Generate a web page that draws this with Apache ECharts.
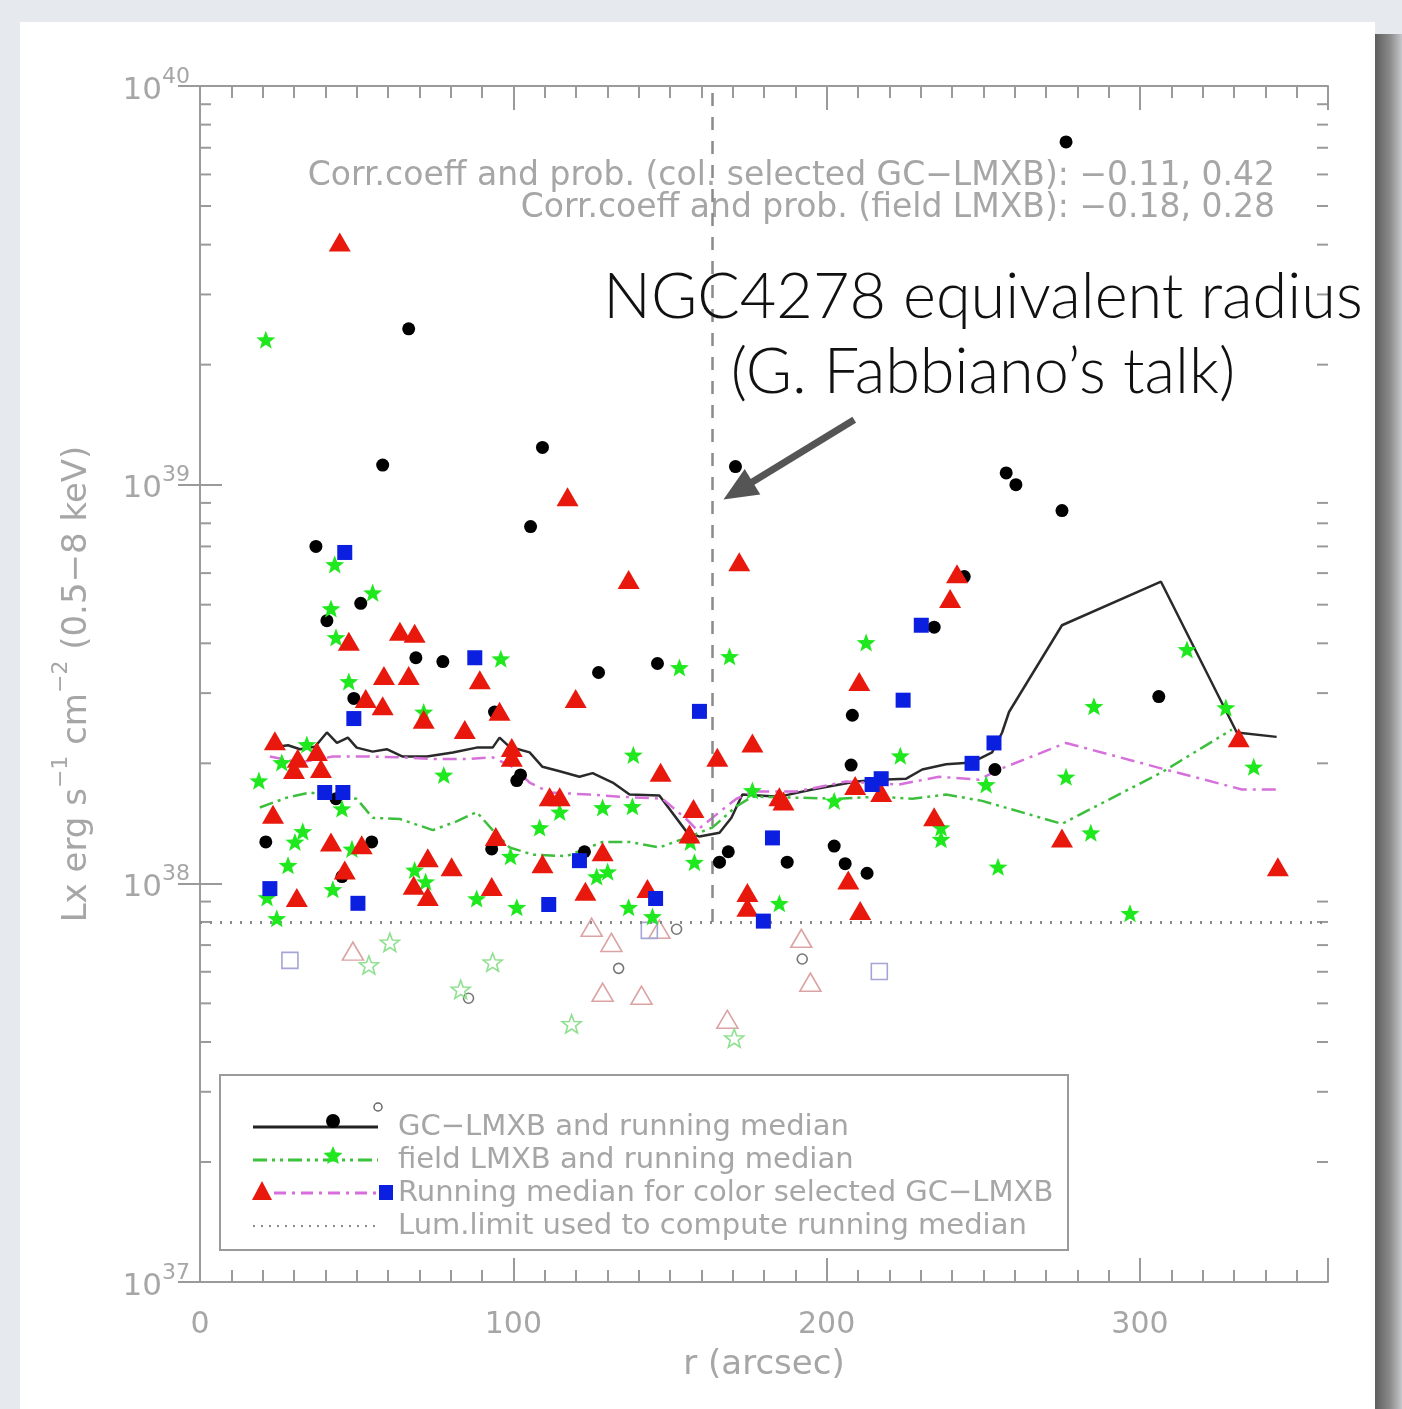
<!DOCTYPE html>
<html>
<head>
<meta charset="utf-8">
<script src="https://cdn.jsdelivr.net/npm/echarts@6/dist/echarts.min.js"></script>
<style>
  html, body { margin: 0; padding: 0; width: 1402px; height: 1409px; overflow: hidden; background: #e6e9ee; }
  #card { position: absolute; left: 20px; top: 22px; width: 1355px; height: 1400px; background: #fff; }
  #shade { position: absolute; left: 1375px; top: 34px; width: 27px; height: 1380px;
           background: linear-gradient(to right, #5d5d5d, #8a8a8a 55%, #c5c8cc); }
  #chart { position: absolute; left: 0; top: 0; width: 1402px; height: 1409px; }
</style>
</head>
<body>
<div id="card"></div>
<div id="shade"></div>
<div id="chart"></div>
<script>
// ---- Data: r (arcsec), Lx (erg/s) ----
// GC-LMXB detections
const gcLmxb = [
  [276.4,7.24e39],[66.6,2.46e39],[109.3,1.24e39],[58.3,1.12e39],[170.9,1.11e39],[257.3,1.07e39],
  [260.4,1.00e39],[105.5,7.85e38],[275.1,8.61e38],[37.0,7.00e38],[243.9,5.88e38],[51.3,5.04e38],
  [40.5,4.56e38],[234.3,4.39e38],[68.9,3.68e38],[77.5,3.60e38],[146.0,3.56e38],[127.2,3.38e38],
  [49.1,2.91e38],[306.0,2.94e38],[94.0,2.69e38],[208.2,2.64e38],[207.8,1.98e38],[253.7,1.93e38],
  [102.3,1.87e38],[101.1,1.81e38],[43.4,1.63e38],[21.0,1.27e38],[54.8,1.27e38],[93.1,1.22e38],
  [122.7,1.20e38],[45.3,1.04e38],[202.4,1.24e38],[205.9,1.12e38],[212.9,1.06e38],[165.8,1.13e38],
  [168.6,1.20e38],[187.4,1.13e38]
];
// GC-LMXB below the luminosity limit
const gcLmxbFaint = [[133.6,6.12e37],[85.7,5.15e37],[152.1,7.67e37],[192.2,6.46e37]];

// colour-selected GC-LMXB (red GCs)
const redGc = [
  [44.6,4.06e39],[117.3,9.33e38],[172.1,6.41e38],[136.8,5.78e38],[241.6,5.98e38],[239.4,5.18e38],
  [63.8,4.29e38],[68.5,4.24e38],[47.5,4.05e38],[58.7,3.32e38],[66.6,3.32e38],[89.3,3.24e38],
  [210.4,3.21e38],[52.9,2.91e38],[119.9,2.91e38],[58.3,2.79e38],[95.6,2.70e38],[71.4,2.58e38],
  [84.5,2.43e38],[23.9,2.28e38],[176.3,2.25e38],[331.5,2.32e38],[37.3,2.14e38],[99.5,2.19e38],
  [99.5,2.07e38],[31.2,2.06e38],[165.1,2.07e38],[30.0,1.93e38],[38.6,1.94e38],[147.0,1.90e38],
  [111.6,1.65e38],[114.8,1.65e38],[184.9,1.65e38],[186.2,1.61e38],[209.1,1.76e38],[217.4,1.69e38],
  [157.5,1.54e38],[23.3,1.49e38],[234.3,1.47e38],[156.2,1.33e38],[275.1,1.30e38],[41.8,1.27e38],
  [51.6,1.25e38],[94.4,1.31e38],[128.5,1.20e38],[72.7,1.16e38],[80.3,1.10e38],[109.3,1.12e38],
  [344.0,1.10e38],[46.2,1.08e38],[68.2,9.89e37],[93.1,9.82e37],[206.9,1.02e38],[72.7,9.27e37],
  [30.9,9.22e37],[123.0,9.55e37],[142.8,9.70e37],[174.7,9.48e37],[174.7,8.71e37],[210.7,8.55e37]
];
const redGcFaint = [
  [125.0,7.76e37],[131.3,7.11e37],[128.5,5.33e37],[140.9,5.24e37],[48.8,6.76e37],
  [191.9,7.28e37],[194.8,5.65e37],[168.3,4.56e37],[146.6,7.67e37]
];

// colour-selected GC-LMXB (blue GCs)
const blueGc = [
  [46.2,6.76e38],[230.2,4.44e38],[87.7,3.68e38],[224.4,2.88e38],[159.4,2.70e38],[49.1,2.59e38],
  [253.4,2.25e38],[246.4,2.00e38],[217.4,1.83e38],[214.5,1.77e38],[39.8,1.69e38],[45.6,1.69e38],
  [182.7,1.30e38],[121.1,1.14e38],[22.3,9.70e37],[50.4,8.91e37],[111.3,8.85e37],[145.4,9.16e37],
  [179.8,8.04e37]
];
const blueGcFaint = [[28.7,6.41e37],[216.8,6.01e37],[143.4,7.62e37]];

// field LMXB
const fieldLmxb = [
  [21.0,2.31e39],[43.0,6.31e38],[55.1,5.36e38],[41.8,4.89e38],[43.4,4.14e38],[212.6,4.02e38],
  [315.0,3.86e38],[169.0,3.71e38],[96.0,3.66e38],[153.0,3.48e38],[47.5,3.21e38],[71.4,2.69e38],
  [285.3,2.78e38],[327.4,2.76e38],[34.1,2.23e38],[138.3,2.10e38],[223.5,2.09e38],[26.1,2.01e38],
  [336.3,1.96e38],[77.8,1.87e38],[276.4,1.85e38],[18.8,1.81e38],[250.9,1.77e38],[176.3,1.71e38],
  [202.4,1.61e38],[45.3,1.54e38],[128.5,1.55e38],[138.0,1.56e38],[114.8,1.51e38],[108.4,1.38e38],
  [32.8,1.35e38],[236.5,1.38e38],[284.3,1.34e38],[236.5,1.29e38],[30.3,1.27e38],[156.5,1.27e38],
  [48.5,1.22e38],[99.1,1.17e38],[157.8,1.13e38],[28.1,1.11e38],[254.7,1.10e38],[68.5,1.08e38],
  [130.1,1.07e38],[126.6,1.04e38],[72.0,1.01e38],[42.4,9.66e37],[21.4,9.22e37],[88.3,9.16e37],
  [184.9,8.91e37],[101.1,8.71e37],[136.8,8.71e37],[296.8,8.41e37],[144.4,8.26e37],[24.5,8.17e37]
];
const fieldLmxbFaint = [[60.6,7.11e37],[53.9,6.24e37],[93.4,6.34e37],[83.2,5.42e37],[118.6,4.44e37],[170.5,4.09e37]];

// running medians
const gcMedian = [
  [22.9,2.19e38],[28.1,2.22e38],[31.9,2.17e38],[36.7,2.20e38],[40.5,2.39e38],[43.7,2.25e38],
  [47.2,2.32e38],[50.0,2.19e38],[55.1,2.14e38],[59.6,2.17e38],[64.7,2.08e38],[72.4,2.08e38],
  [80.7,2.13e38],[88.3,2.19e38],[93.4,2.19e38],[95.6,2.32e38],[98.8,2.20e38],[105.2,2.13e38],
  [109.3,1.96e38],[114.8,1.91e38],[121.1,1.85e38],[125.3,1.89e38],[131.7,1.79e38],[137.1,1.67e38],
  [146.6,1.66e38],[155.2,1.35e38],[159.4,1.31e38],[165.8,1.34e38],[169.6,1.46e38],[173.1,1.67e38],
  [184.9,1.65e38],[195.4,1.72e38],[209.4,1.80e38],[216.8,1.82e38],[225.4,1.83e38],[230.5,1.93e38],
  [238.1,1.99e38],[246.4,2.01e38],[252.8,2.13e38],[256.0,2.39e38],[258.2,2.69e38],[275.1,4.44e38],
  [306.7,5.71e38],[330.9,2.39e38],[343.6,2.33e38]
];
const colorMedian = [
  [22.3,2.08e38],[31.9,2.01e38],[42.4,2.08e38],[53.2,2.08e38],[63.8,2.07e38],[74.3,2.05e38],
  [85.1,2.05e38],[93.4,2.07e38],[99.8,1.96e38],[105.2,1.79e38],[111.6,1.69e38],[124.3,1.67e38],
  [133.9,1.65e38],[147.6,1.63e38],[155.2,1.45e38],[158.7,1.36e38],[165.8,1.51e38],[171.2,1.63e38],
  [176.3,1.70e38],[190.3,1.70e38],[206.2,1.80e38],[223.1,1.77e38],[235.9,1.85e38],[248.6,1.82e38],
  [255.0,1.93e38],[276.4,2.25e38],[307.0,1.94e38],[332.5,1.72e38],[344.3,1.72e38]
];
const fieldMedian = [
  [19.1,1.55e38],[27.7,1.64e38],[35.1,1.69e38],[42.4,1.65e38],[50.0,1.63e38],[55.1,1.46e38],
  [63.8,1.45e38],[74.3,1.36e38],[81.9,1.43e38],[88.3,1.51e38],[93.4,1.36e38],[98.8,1.23e38],
  [106.2,1.18e38],[117.0,1.17e38],[128.5,1.27e38],[137.1,1.27e38],[146.6,1.23e38],[156.2,1.31e38],
  [163.5,1.38e38],[171.2,1.56e38],[176.3,1.65e38],[190.3,1.64e38],[203.1,1.63e38],[216.8,1.65e38],
  [227.3,1.63e38],[238.1,1.67e38],[249.6,1.61e38],[275.1,1.41e38],[307.0,1.90e38],[329.3,2.43e38]
];

const lumLimit = 8e37;          // luminosity limit used for the running medians
const ngc4278Radius = 163.5;    // equivalent radius, arcsec
const arrowFrom = [208.8, 1.455e39];
const arrowTo = [171.7, 9.66e38];

const corrLines = [
  'Corr.coeff and prob. (col. selected GC\u2212LMXB): \u22120.11, 0.42',
  'Corr.coeff and prob. (field LMXB): \u22120.18, 0.28'
];
const yMinorTicks = [
  2e37,3e37,4e37,5e37,6e37,7e37,8e37,9e37,
  2e38,3e38,4e38,5e38,6e38,7e38,8e38,9e38,
  2e39,3e39,4e39,5e39,6e39,7e39,8e39,9e39
];

// ---- Styling ----
const AXIS = '#9a9a9a';
const TXT = '#a6a6a6';
const FONT = 'DejaVu Sans';
const STAR = 'path://M50,0L62.3,33L97.6,34.5L70,56.5L79.4,90.5L50,71L20.6,90.5L30,56.5L2.4,34.5L37.7,33Z';
const RED = '#e8180c', BLUE = '#0b1fe0', GREEN = '#1fe81f';

const G = { left: 200, top: 86, right: 74, bottom: 127 };

function xAxisDef(pos, interval, len, labels, line) {
  return {
    type: 'value', position: pos, min: 0, max: 360, interval: interval,
    axisLine: { show: line, lineStyle: { color: AXIS, width: 2 } },
    axisTick: { show: true, inside: true, length: len, lineStyle: { color: AXIS, width: 2 } },
    axisLabel: labels ? {
      show: true, margin: 28, color: TXT, fontFamily: FONT, fontSize: 30,
      formatter: v => (v % 100 === 0 ? String(v) : '')
    } : { show: false },
    splitLine: { show: false }
  };
}

function starPts(cx, cy, R, r) {
  const pts = [];
  for (let i = 0; i < 10; i++) {
    const a = -Math.PI / 2 + i * Math.PI / 5;
    const rr = i % 2 ? r : R;
    pts.push([cx + rr * Math.cos(a), cy + rr * Math.sin(a)]);
  }
  return pts;
}

const chart = echarts.init(document.getElementById('chart'), null, { renderer: 'canvas' });

const legendRows = [1127, 1160, 1193, 1226];
const legendText = [
  'GC\u2212LMXB and running median',
  'field LMXB and running median',
  'Running median for color selected GC\u2212LMXB',
  'Lum.limit used to compute running median'
];

const graphics = [
  // correlation notes
  { type: 'text', x: 1275, y: 176, style: { text: corrLines[0], align: 'right', verticalAlign: 'middle', fill: TXT, font: '33px "' + FONT + '"' } },
  { type: 'text', x: 1275, y: 208, style: { text: corrLines[1], align: 'right', verticalAlign: 'middle', fill: TXT, font: '33px "' + FONT + '"' } },
  // annotation
  { type: 'text', x: 983, y: 298, z: 20, style: { text: 'NGC4278 equivalent radius', align: 'center', verticalAlign: 'middle', fill: '#111', font: '300 63px Lato' } },
  { type: 'text', x: 983, y: 373, z: 20, style: { text: '(G. Fabbiano\u2019s talk)', align: 'center', verticalAlign: 'middle', fill: '#111', font: '300 63px Lato' } },
  // legend box
  { type: 'rect', shape: { x: 220, y: 1075, width: 848, height: 175 }, style: { fill: '#fff', stroke: AXIS, lineWidth: 2 } },
  { type: 'line', shape: { x1: 253, y1: 1127, x2: 378, y2: 1127 }, style: { stroke: '#222', lineWidth: 3 } },
  { type: 'circle', shape: { cx: 333, cy: 1121, r: 7 }, style: { fill: '#000' } },
  { type: 'circle', shape: { cx: 378, cy: 1107, r: 4 }, style: { fill: 'none', stroke: '#666', lineWidth: 1.5 } },
  { type: 'line', shape: { x1: 253, y1: 1160, x2: 378, y2: 1160 }, style: { stroke: '#3cc23c', lineWidth: 3, lineDash: [14, 5, 3, 5, 3, 5] } },
  { type: 'polygon', shape: { points: starPts(333, 1156, 10, 4.5) }, style: { fill: GREEN } },
  { type: 'polygon', shape: { points: [[262, 1181], [272, 1200], [252, 1200]] }, style: { fill: RED } },
  { type: 'line', shape: { x1: 274, y1: 1193, x2: 378, y2: 1193 }, style: { stroke: '#d86cdc', lineWidth: 3, lineDash: [12, 6, 3, 6] } },
  { type: 'rect', shape: { x: 379, y: 1185, width: 14, height: 15 }, style: { fill: BLUE } },
  { type: 'line', shape: { x1: 253, y1: 1226, x2: 378, y2: 1226 }, style: { stroke: '#8a8a8a', lineWidth: 2, lineDash: [2, 6] } }
];
legendRows.forEach((y, i) => {
  graphics.push({ type: 'text', x: 398, y: y, style: { text: legendText[i], align: 'left', verticalAlign: 'middle', fill: TXT, font: '29px "' + FONT + '"' } });
});

function scatter(name, data, symbol, size, fill, stroke, z) {
  return {
    name: name, type: 'scatter', data: data, symbol: symbol, symbolSize: size, symbolKeepAspect: true,
    itemStyle: fill ? { color: fill, opacity: 1 } : { color: 'rgba(0,0,0,0)', borderColor: stroke, borderWidth: 1.6, opacity: 1 },
    z: z, silent: true
  };
}

const option = {
  animation: false,
  backgroundColor: 'transparent',
  grid: { left: G.left, top: G.top, right: G.right, bottom: G.bottom, containLabel: false },
  xAxis: [
    Object.assign(xAxisDef('bottom', 100, 24, true, true), {
      name: 'r (arcsec)', nameLocation: 'middle', nameGap: 66,
      nameTextStyle: { color: TXT, fontFamily: FONT, fontSize: 34 }
    }),
    xAxisDef('bottom', 10, 12, false, false),
    xAxisDef('top', 100, 24, false, true),
    xAxisDef('top', 10, 12, false, false)
  ],
  yAxis: [
    {
      type: 'log', logBase: 10, min: 1e37, max: 1e40, position: 'left',
      axisLine: { show: true, lineStyle: { color: AXIS, width: 2 } },
      axisTick: { show: true, inside: true, length: 22, lineStyle: { color: AXIS, width: 2 } },
      splitLine: { show: false },
      axisLabel: {
        margin: 10, color: TXT,
        formatter: v => '{b|10}{s|' + Math.round(Math.log10(v)) + '}',
        rich: {
          b: { fontFamily: FONT, fontSize: 31, color: TXT, lineHeight: 40, verticalAlign: 'bottom' },
          s: { fontFamily: FONT, fontSize: 22, color: TXT, lineHeight: 40, verticalAlign: 'top' }
        }
      },
      name: '{a|Lx erg s}{s|\u22121}{a| cm}{s|\u22122}{a| (0.5\u22128 keV)}',
      nameLocation: 'middle', nameGap: 106, nameRotate: 90,
      nameTextStyle: {
        rich: {
          a: { fontFamily: FONT, fontSize: 34, color: TXT, lineHeight: 44, verticalAlign: 'bottom' },
          s: { fontFamily: FONT, fontSize: 22, color: TXT, lineHeight: 44, verticalAlign: 'top' }
        }
      }
    },
    {
      type: 'log', logBase: 10, min: 1e37, max: 1e40, position: 'right',
      axisLine: { show: true, lineStyle: { color: AXIS, width: 2 } },
      axisTick: { show: true, inside: true, length: 22, lineStyle: { color: AXIS, width: 2 } },
      axisLabel: { show: false }, splitLine: { show: false }
    }
  ],
  graphic: graphics,
  series: [
    // minor ticks of the logarithmic axes
    {
      type: 'custom', silent: true, z: 1,
      data: yMinorTicks.map(v => [0, v]),
      renderItem: function (params, api) {
        const y = api.coord([api.value(0), api.value(1)])[1];
        const cs = params.coordSys;
        return {
          type: 'group', children: [
            { type: 'line', shape: { x1: cs.x, y1: y, x2: cs.x + 11, y2: y }, style: { stroke: AXIS, lineWidth: 2 } },
            { type: 'line', shape: { x1: cs.x + cs.width - 11, y1: y, x2: cs.x + cs.width, y2: y }, style: { stroke: AXIS, lineWidth: 2 } }
          ]
        };
      }
    },
    {
      name: 'GC median', type: 'line', data: gcMedian, showSymbol: false, symbol: 'none', z: 3, silent: true,
      lineStyle: { color: '#2a2a2a', width: 2.5 },
      markLine: {
        silent: true, symbol: ['none', 'none'], label: { show: false }, animation: false,
        data: [
          [{ coord: [0, lumLimit], lineStyle: { color: '#8a8a8a', width: 3, type: [2, 8] } },
           { coord: [360, lumLimit] }],
          [{ coord: [ngc4278Radius, lumLimit], lineStyle: { color: '#8a8a8a', width: 2.5, type: [13, 11] } },
           { coord: [ngc4278Radius, 1e40] }]
        ]
      }
    },
    {
      name: 'colour median', type: 'line', data: colorMedian, showSymbol: false, symbol: 'none', z: 3, silent: true,
      lineStyle: { color: '#d670da', width: 2.5, type: [14, 6, 3, 6] }
    },
    {
      name: 'field median', type: 'line', data: fieldMedian, showSymbol: false, symbol: 'none', z: 3, silent: true,
      lineStyle: { color: '#3dbf3d', width: 2.5, type: [14, 5, 3, 5, 3, 5] }
    },
    scatter('GC faint', gcLmxbFaint, 'circle', 10, null, '#777', 4),
    scatter('red faint', redGcFaint, 'triangle', [21, 18], null, '#dba3a3', 4),
    scatter('blue faint', blueGcFaint, 'rect', 16, null, '#a5a5d8', 4),
    scatter('field faint', fieldLmxbFaint, STAR, 19, null, '#8fe08f', 4),
    scatter('GC-LMXB', gcLmxb, 'circle', 13, '#000', null, 5),
    scatter('field LMXB', fieldLmxb, STAR, 19, GREEN, null, 6),
    scatter('red GC', redGc, 'triangle', [22, 19], RED, null, 7),
    scatter('blue GC', blueGc, 'rect', 15, BLUE, null, 8),
    {
      type: 'line', data: [], z: 20, silent: true,
      markLine: {
        silent: true, symbol: ['none', 'triangle'], symbolSize: [30, 34], label: { show: false }, animation: false,
        lineStyle: { color: '#555', width: 7, type: 'solid' },
        data: [[{ coord: arrowFrom }, { coord: arrowTo }]]
      }
    }
  ]
};

chart.setOption(option);
</script>
</body>
</html>
